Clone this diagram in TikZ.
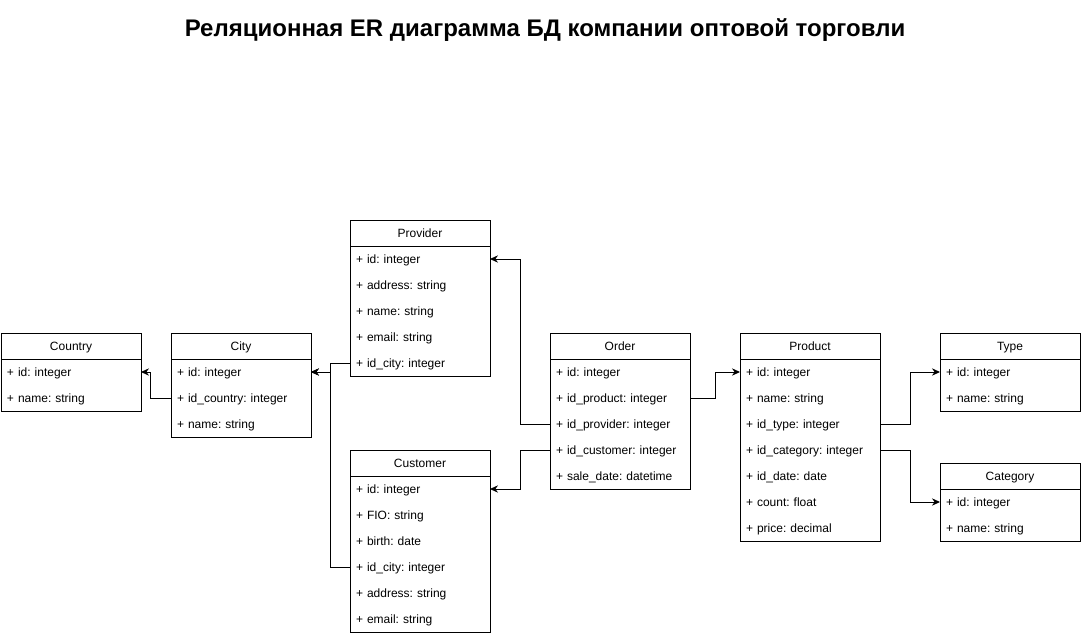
\documentclass[tikz,border=0pt]{standalone}
\usepackage{fontspec}
\setmainfont{Liberation Sans}
\usetikzlibrary{arrows.meta,positioning}
\frenchspacing

\tikzset{every picture/.style={line width=0.75pt}}
\tikzset{
  tblhead/.style={draw, anchor=north west, minimum width=105pt, minimum height=19.5pt,
    inner sep=0pt, outer sep=0pt, text height=8.4pt, text depth=1.6pt,
    font=\fontsize{9}{11}\selectfont},
  tblrow/.style={anchor=north west, text width=96pt, align=left, minimum height=19.5pt,
    inner xsep=4.5pt, inner ysep=0pt, outer sep=0pt, text height=8.4pt, text depth=1.6pt,
    font=\fontsize{9}{11}\selectfont},
  fk/.style={-{Stealth[length=6pt,width=5.5pt]}},
}

% table: name, top-left corner (px), title, number of rows, rows
\newcommand{\ertable}[5]{%
  \node[tblhead] (#1) at (#2) {#3};
  \foreach \r [count=\i] in {#5} {
    \node[tblrow] (#1-\i) at ([yshift={-(\i-1)*19.5pt}]#1.south west) {\r};
  }
  \draw (#1.north west) rectangle ++(140,{26+#4*26});
}

\begin{document}
\begin{tikzpicture}[x=0.75pt,y=-0.75pt]
        \useasboundingbox (0,0) rectangle (1082,635);
        \node[font=\bfseries\fontsize{18}{22}\selectfont] (title) at (545,30)
            {Реляционная ER диаграмма БД компании оптовой торговли};

        \ertable{country}{1,333}{Country}{2}{+ id: integer, + name: string}
        \ertable{city}{171,333}{City}{3}{+ id: integer, + id\_country: integer, + name: string}
        \ertable{provider}{350,220}{Provider}{5}{+ id: integer, + address: string,
            + name: string, + email: string, + id\_city: integer}
        \ertable{customer}{350,450}{Customer}{6}{+ id: integer, + FIO: string,
            + birth: date, + id\_city: integer, + address: string, + email: string}
        \ertable{order}{550,333}{Order}{5}{+ id: integer, + id\_product: integer,
            + id\_provider: integer, + id\_customer: integer, + sale\_date: datetime}
        \ertable{product}{740,333}{Product}{7}{+ id: integer, + name: string,
            + id\_type: integer, + id\_category: integer, + id\_date: date,
            + count: float, + price: decimal}
        \ertable{type}{940,333}{Type}{2}{+ id: integer, + name: string}
        \ertable{category}{940,463}{Category}{2}{+ id: integer, + name: string}

        % foreign keys
        \draw[fk] (city-2.west) -- ++(-21,0) |- (country-1.east);
        \draw[fk] (provider-5.west) -- ++(-20,0) |- (city-1.east);
        \draw[fk] (customer-4.west) -- ++(-20,0) |- (city-1.east);
        \draw[fk] (order-3.west) -- ++(-30,0) |- (provider-1.east);
        \draw[fk] (order-4.west) -- ++(-30,0) |- (customer-1.east);
        \draw[fk] (order-2.east) -- ++(25,0) |- (product-1.west);
        \draw[fk] (product-3.east) -- ++(30,0) |- (type-1.west);
        \draw[fk] (product-4.east) -- ++(30,0) |- (category-1.west);
    \end{tikzpicture}
\end{document}
